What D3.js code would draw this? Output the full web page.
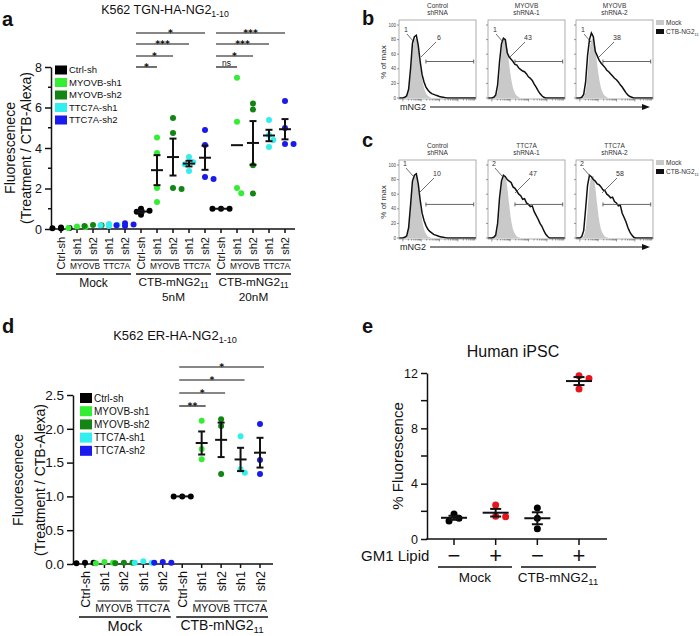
<!DOCTYPE html>
<html><head><meta charset="utf-8">
<script src="https://cdn.jsdelivr.net/npm/d3@7"></script>
<style>body{margin:0;background:#fff} text{font-family:Arial,"Liberation Sans",sans-serif;fill:#111}</style>
</head><body><svg id="c" width="700" height="636"></svg>
<script>
// ---------------- DATA ----------------
const shCats = ["Ctrl-sh","MYOVB-sh1","MYOVB-sh2","TTC7A-sh1","TTC7A-sh2"];
const shColors = ["#000000","#33ee33","#138513","#33eeee","#1a1aee"];
const shTickLabels = ["Ctrl-sh","sh1","sh2","sh1","sh2"];
const geneLabels = ["MYOVB","TTC7A"];

// panel a
const aGroups = ["Mock","5nM","20nM"];
const aMock = [[0.05,0.02,0.08,0.04],[0.1,0.05,0.12],[0.15,0.18,0.2],[0.15,0.2,0.25,0.18],[0.15,0.22,0.28,0.18]];
const a5nM  = [[0.7,0.85,0.9,1.0],[4.52,3.75,2.02,1.33],[5.48,4.74,1.97,2.02],[3.55,3.3,3.2,2.87],[4.89,4.15,2.47,2.57]];
const a20nM = [[1,1,1],[7.47,5.3,1.77,2.02],[6.2,5.9,3.15,1.75],[5.38,4.64,4.4,4.05],[6.32,4.99,4.2,4.2]];
const aYTicks = [0,2,4,6,8];
const aYMinor = [1,3,5,7];
const aSig5 = ["*","*","***","*"];
const aSig20 = ["ns","*","***","***"];
const aNoErr = ["20nM|MYOVB-sh1"];

// panel d
const dGroups = ["Mock","CTB"];
const dMock = [[0.02,0.01,0.02],[0.02,0.01,0.03],[0.02,0.01,0.02],[0.04,0.02,0.02],[0.02,0.02,0.03]];
const dCTB  = [[1,1,1],[2.12,1.7,1.55],[2.14,2.04,1.33],[1.89,1.4,1.35],[2.07,1.54,1.33]];
const dYTicks = [0,0.5,1,1.5,2,2.5];
const dSig = ["**","*","*","*"];

// panel e
const eCats = ["Mock-","Mock+","CTB-","CTB+"];
const eSigns = ["\u2212","+","\u2212","+"];
const eColors = ["#000000","#e8141c","#000000","#e8141c"];
const eVals = [[1.8,1.3,1.5],[2.45,1.6,1.65],[2.25,1.5,0.75],[11.8,11.6,10.85]];
const eYTicks = [0,4,8,12];
const eYMinor = [2,6,10];

// panels b, c (flow histograms, % of max vs mNG2 position 0..1)
const flowBins = [0.05,0.075,0.1,0.125,0.15,0.175,0.2,0.225,0.25,0.275,0.3,0.325,0.35,0.375,0.4,0.425,0.45,0.475,0.5,0.525,0.55,0.575,0.6,0.625,0.65,0.675,0.7,0.725,0.75,0.775,0.8,0.825,0.85,0.875];
const bTitles = [["Control","shRNA"],["MYOVB","shRNA-1"],["MYOVB","shRNA-2"]];
const cTitles = [["Control","shRNA"],["TTC7A","shRNA-1"],["TTC7A","shRNA-2"]];
const bMock = [0,0,2,9,32,63,79,82,69,47,27,14,7,3,1,0,0,0,0,0,0,0,0,0,0,0,0,0,0,0,0,0,0,0];
const cMock = [0,0,3,12,38,70,84,85,70,46,25,12,6,2,1,0,0,0,0,0,0,0,0,0,0,0,0,0,0,0,0,0,0,0];
const bCTB1 = [0,1,3,12,40,75,84,86,72,50,32,22,15,11,8,6,5,4,3,2,1.5,1,0.5,0,0,0,0,0,0,0,0,0,0,0];
const bCTB2 = [0,1,4,18,50,74,82,80,62,56,53,50,46,45,41,39,37,36,33,29,27,24,19,15,10,6,3,1,0,0,0,0,0,0];
const bCTB3 = [0,1,5,22,58,80,89,84,64,58,52,48,45,42,38,36,33,30,27,25,22,18,15,11,7,4,2,1,0,0,0,0,0,0];
const cCTB1 = [0,1,3,14,45,78,86,88,74,52,34,24,17,12,9,7,5,4,3,2,1.5,1,0.5,0,0,0,0,0,0,0,0,0,0,0];
const cCTB2 = [0,1,4,20,55,78,86,84,80,78,76,70,68,64,60,58,53,54,48,46,43,44,36,31,26,20,16,10,5,2,0,0,0,0];
const cCTB3 = [0,2,10,40,72,86,84,80,78,74,73,70,66,65,60,58,55,56,50,48,44,45,34,28,22,14,8,4,1,0,0,0,0,0];
const bMockGate = ["1","1","1"], bGate = ["6","43","38"];
const cMockGate = ["1","2","2"], cGate = ["10","47","58"];
const flowYTicks = [0,20,40,60,80,100];

// ---------------- HELPERS ----------------
const svg = d3.select("#c");
svg.append("rect").attr("width",700).attr("height",636).attr("fill","#fff");

function subText(g, x, y, main, sub, size, anchor) {
  const t = g.append("text").attr("x",x).attr("y",y).attr("font-size",size).attr("text-anchor",anchor||"middle");
  t.append("tspan").text(main);
  t.append("tspan").attr("font-size",size*0.7).attr("dy",size*0.2).text(sub);
  return t;
}
function panelLabel(x,y,s){ svg.append("text").attr("x",x).attr("y",y).attr("font-size",20).attr("font-weight","bold").text(s); }

function styleAxis(sel, fs){
  sel.select(".domain").attr("stroke","#111").attr("stroke-width",1.5);
  sel.selectAll(".tick line").attr("stroke","#111").attr("stroke-width",1.5);
  sel.selectAll(".tick text").attr("font-size",fs).attr("font-family","Arial, Liberation Sans, sans-serif").attr("fill","#111");
}

function swarm(ys, r){
  const order = ys.map((v,i)=>i).sort((a,b)=>ys[a]-ys[b]);
  const placed = []; const off = new Array(ys.length).fill(0);
  const d = r*1.9, steps=[0,1,-1,2,-2,3,-3];
  order.forEach(i=>{
    for (const s of steps){
      const ox = s*d*0.75;
      if (placed.every(p => Math.hypot(p.x-ox, p.y-ys[i]) >= r*1.7)){ off[i]=ox; placed.push({x:ox,y:ys[i]}); break; }
    }
  });
  return off;
}

function dotGroup(g, cx, vals, color, y, opt){
  const ys = vals.map(v=>y(v));
  const off = swarm(ys, opt.r);
  g.selectAll(null).data(vals).enter().append("circle")
    .attr("cx",(d,i)=>cx+off[i]).attr("cy",d=>y(d)).attr("r",opt.r).attr("fill",color);
  if (!opt.lines) return;
  const m = d3.mean(vals), s = vals.length>1 ? d3.deviation(vals)/Math.sqrt(vals.length) : 0;
  const L = g.append("g").attr("stroke","#111").attr("stroke-width",2);
  L.append("line").attr("x1",cx-opt.mw).attr("x2",cx+opt.mw).attr("y1",y(m)).attr("y2",y(m));
  if (opt.err && s>0){
    L.append("line").attr("x1",cx).attr("x2",cx).attr("y1",y(m-s)).attr("y2",y(m+s));
    L.append("line").attr("x1",cx-opt.cw).attr("x2",cx+opt.cw).attr("y1",y(m-s)).attr("y2",y(m-s));
    L.append("line").attr("x1",cx-opt.cw).attr("x2",cx+opt.cw).attr("y1",y(m+s)).attr("y2",y(m+s));
  }
}

function sigBracket(g, x1, x2, yy, label){
  g.append("line").attr("x1",x1).attr("x2",x2).attr("y1",yy).attr("y2",yy).attr("stroke","#111").attr("stroke-width",1.2);
  const isStar = label.indexOf("*")>=0;
  const t = g.append("text").attr("x",(x1+x2)/2).attr("text-anchor","middle").text(label);
  if (isStar) t.attr("y",yy+2.6).attr("font-size",9.4).attr("font-weight","bold").style("font-family","DejaVu Sans, sans-serif");
  else t.attr("y",yy-0.6).attr("font-size",8.5);
}

function legend(g, x, y0, dy, sw, sh, fs){
  shCats.forEach((c,i)=>{
    g.append("rect").attr("x",x).attr("y",y0+i*dy-sh/2).attr("width",sw).attr("height",sh).attr("fill",shColors[i]);
    g.append("text").attr("x",x+sw+2).attr("y",y0+i*dy+fs*0.36).attr("font-size",fs).text(c);
  });
}

function yLabel2(g, x1, x2, cy, l1, l2, fs){
  g.append("text").attr("transform",`translate(${x1},${cy}) rotate(-90)`).attr("text-anchor","middle").attr("font-size",fs).text(l1);
  g.append("text").attr("transform",`translate(${x2},${cy}) rotate(-90)`).attr("text-anchor","middle").attr("font-size",fs).text(l2);
}

// ---------------- PANEL A ----------------
(function(){
  const g = svg.append("g");
  panelLabel(2,26,"a");
  subText(g,165,14,"K562 TGN-HA-NG2","1-10",12.5);
  const keys=[]; aGroups.forEach(gr=>shCats.forEach(c=>keys.push(gr+"|"+c)));
  const x = d3.scalePoint().domain(keys).range([61,285]);
  const y = d3.scaleLinear().domain([0,8]).range([229,67]);
  const ax = g.append("g").attr("transform","translate(51,0)")
    .call(d3.axisLeft(y).tickValues(aYTicks).tickSize(6).tickSizeOuter(0).tickPadding(3));
  styleAxis(ax,12.5);
  aYMinor.forEach(v=>g.append("line").attr("x1",48).attr("x2",51).attr("y1",y(v)).attr("y2",y(v)).attr("stroke","#111").attr("stroke-width",1.5));
  g.append("line").attr("x1",50.25).attr("x2",295).attr("y1",229).attr("y2",229).attr("stroke","#111").attr("stroke-width",1.5);
  keys.forEach(k=>g.append("line").attr("x1",x(k)).attr("x2",x(k)).attr("y1",229).attr("y2",233).attr("stroke","#111").attr("stroke-width",1.5));
  yLabel2(g,15,31,148,"Fluorescenece","(Treatment / CTB-Alexa)",14);
  legend(g,55,70,12.5,12,9,9.5);
  const dataSets=[aMock,a5nM,a20nM];
  aGroups.forEach((gr,gi)=>{
    shCats.forEach((c,ci)=>{
      const k=gr+"|"+c;
      dotGroup(g,x(k),dataSets[gi][ci],shColors[ci],y,{r:3,lines:gi>0,err:aNoErr.indexOf(k)<0,mw:6,cw:3.5});
      g.append("text").attr("transform",`translate(${x(k)+4},237) rotate(-90)`).attr("text-anchor","end").attr("font-size",11).text(shTickLabels[ci]);
    });
    geneLabels.forEach((gl,j)=>{
      const xa=x(gr+"|"+shCats[1+2*j])-6, xb=x(gr+"|"+shCats[2+2*j])+6;
      g.append("line").attr("x1",xa).attr("x2",xb).attr("y1",260).attr("y2",260).attr("stroke","#111").attr("stroke-width",1.2);
      g.append("text").attr("x",(xa+xb)/2).attr("y",269).attr("text-anchor","middle").attr("font-size",8.3).text(gl);
    });
    const x0=x(gr+"|"+shCats[0])-5, x1=x(gr+"|"+shCats[4])+6;
    g.append("line").attr("x1",x0).attr("x2",x1).attr("y1",274).attr("y2",274).attr("stroke","#111").attr("stroke-width",1.5);
    if (gi===0) g.append("text").attr("x",(x0+x1)/2).attr("y",286.5).attr("text-anchor","middle").attr("font-size",12).text("Mock");
    else {
      subText(g,(x0+x1)/2,286,"CTB-mNG2","11",11.8);
      g.append("text").attr("x",(x0+x1)/2).attr("y",300.5).attr("text-anchor","middle").attr("font-size",11.8).text(gr);
    }
  });
  const levels=[67,56,44,33];
  [["5nM",aSig5],["20nM",aSig20]].forEach(([gr,labs])=>{
    labs.forEach((lab,i)=>{
      sigBracket(g,x(gr+"|"+shCats[0])-5,x(gr+"|"+shCats[i+1]),levels[i],lab);
    });
  });
})();

// ---------------- PANEL D ----------------
(function(){
  const g = svg.append("g");
  panelLabel(2,333,"d");
  subText(g,175,340,"K562 ER-HA-NG2","1-10",13);
  const keys=[]; dGroups.forEach(gr=>shCats.forEach(c=>keys.push(gr+"|"+c)));
  const x = d3.scalePoint().domain(keys).range([85,260]);
  const y = d3.scaleLinear().domain([0,2.5]).range([564,395]);
  const ax = g.append("g").attr("transform","translate(73,0)")
    .call(d3.axisLeft(y).tickValues(dYTicks).tickSize(6).tickSizeOuter(0).tickPadding(3).tickFormat(d3.format(".1f")));
  styleAxis(ax,13.5);
  g.append("line").attr("x1",72.25).attr("x2",273).attr("y1",564).attr("y2",564).attr("stroke","#111").attr("stroke-width",1.5);
  keys.forEach(k=>g.append("line").attr("x1",x(k)).attr("x2",x(k)).attr("y1",564).attr("y2",568).attr("stroke","#111").attr("stroke-width",1.5));
  yLabel2(g,23,45,480,"Fluorescenece","(Treatment / CTB-Alexa)",14);
  legend(g,80,398,13.2,12,10,10);
  const dataSets=[dMock,dCTB];
  dGroups.forEach((gr,gi)=>{
    shCats.forEach((c,ci)=>{
      const k=gr+"|"+c;
      dotGroup(g,x(k),dataSets[gi][ci],shColors[ci],y,{r:3,lines:gi>0,err:true,mw:6,cw:3.5});
      g.append("text").attr("transform",`translate(${x(k)+4.5},571) rotate(-90)`).attr("text-anchor","end").attr("font-size",12.5).text(shTickLabels[ci]);
    });
    geneLabels.forEach((gl,j)=>{
      const xa=x(gr+"|"+shCats[1+2*j])-7, xb=x(gr+"|"+shCats[2+2*j])+7;
      g.append("line").attr("x1",xa).attr("x2",xb).attr("y1",601).attr("y2",601).attr("stroke","#111").attr("stroke-width",1.2);
      g.append("text").attr("x",(xa+xb)/2).attr("y",612).attr("text-anchor","middle").attr("font-size",10.5).text(gl);
    });
    const x0=x(gr+"|"+shCats[0])-6, x1=x(gr+"|"+shCats[4])+8;
    g.append("line").attr("x1",x0).attr("x2",x1).attr("y1",617).attr("y2",617).attr("stroke","#111").attr("stroke-width",1.5);
    if (gi===0) g.append("text").attr("x",(x0+x1)/2).attr("y",631).attr("text-anchor","middle").attr("font-size",14.5).text("Mock");
    else subText(g,(x0+x1)/2,630,"CTB-mNG2","11",14);
  });
  const levels=[406,393,380,367];
  dSig.forEach((lab,i)=>sigBracket(g,x("CTB|"+shCats[0])-3,x("CTB|"+shCats[i+1])+4,levels[i],lab));
})();

// ---------------- PANEL E ----------------
(function(){
  const g = svg.append("g");
  panelLabel(362,333,"e");
  g.append("text").attr("x",513).attr("y",357).attr("text-anchor","middle").attr("font-size",16).text("Human iPSC");
  const x = d3.scalePoint().domain(eCats).range([454,579]);
  const y = d3.scaleLinear().domain([0,12]).range([539,373]);
  const ax = g.append("g").attr("transform","translate(427,0)")
    .call(d3.axisLeft(y).tickValues(eYTicks).tickSize(6).tickSizeOuter(0).tickPadding(3));
  styleAxis(ax,12.5);
  eYMinor.forEach(v=>g.append("line").attr("x1",421).attr("x2",427).attr("y1",y(v)).attr("y2",y(v)).attr("stroke","#111").attr("stroke-width",1.5));
  g.append("line").attr("x1",426.25).attr("x2",607).attr("y1",539).attr("y2",539).attr("stroke","#111").attr("stroke-width",1.5);
  eCats.forEach((k,i)=>{
    g.append("line").attr("x1",x(k)).attr("x2",x(k)).attr("y1",539).attr("y2",545).attr("stroke","#111").attr("stroke-width",1.5);
    dotGroup(g,x(k),eVals[i],eColors[i],y,{r:3.5,lines:true,err:true,mw:13,cw:5.5});
    g.append("text").attr("x",x(k)).attr("y",563).attr("text-anchor","middle").attr("font-size",22).text(eSigns[i]);
  });
  g.append("text").attr("transform","translate(403,456) rotate(-90)").attr("text-anchor","middle").attr("font-size",15).text("% Fluorescence");
  g.append("text").attr("x",361).attr("y",561).attr("font-size",15).text("GM1 Lipid");
  g.append("line").attr("x1",438).attr("x2",512).attr("y1",567).attr("y2",567).attr("stroke","#111").attr("stroke-width",1.5);
  g.append("line").attr("x1",521).attr("x2",596).attr("y1",567).attr("y2",567).attr("stroke","#111").attr("stroke-width",1.5);
  g.append("text").attr("x",475).attr("y",582).attr("text-anchor","middle").attr("font-size",13.5).text("Mock");
  subText(g,558,582,"CTB-mNG2","11",13.5);
})();

// ---------------- PANELS B, C ----------------
const boxLefts=[399,488,576], boxW=77;
function flowRow(top, titles, mock, ctbs, mockLabs, gateLabs, gateLevel, labOff){
  boxLefts.forEach((bx,i)=>{
    const g = svg.append("g");
    const fx = d3.scaleLinear().domain([0,1]).range([bx,bx+boxW]);
    const fy = d3.scaleLinear().domain([0,100]).range([top+78,top+5]);
    g.append("text").attr("x",bx+boxW/2).attr("y",top-12).attr("text-anchor","middle").attr("font-size",6.5).style("fill","#333").text(titles[i][0]);
    g.append("text").attr("x",bx+boxW/2).attr("y",top-5).attr("text-anchor","middle").attr("font-size",6.5).style("fill","#333").text(titles[i][1]);
    const pts = (arr)=>[[0,0]].concat(flowBins.map((b,j)=>[b,arr[j]])).concat([[1,0]]);
    g.append("path").datum(pts(mock)).attr("fill","#c9c9c9")
      .attr("d",d3.area().x(d=>fx(d[0])).y0(fy(0)).y1(d=>fy(d[1])).curve(d3.curveMonotoneX));
    g.append("path").datum(pts(ctbs[i])).attr("fill","none").attr("stroke","#111").attr("stroke-width",1.5)
      .attr("d",d3.line().x(d=>fx(d[0])).y(d=>fy(d[1])).curve(d3.curveLinear));
    g.append("rect").attr("x",bx).attr("y",top).attr("width",boxW).attr("height",79).attr("fill","none").attr("stroke","#999").attr("stroke-width",0.8);
    flowYTicks.forEach(t=>{
      g.append("line").attr("x1",bx-2).attr("x2",bx).attr("y1",fy(t)).attr("y2",fy(t)).attr("stroke","#555").attr("stroke-width",0.6);
      if(i===0) g.append("text").attr("x",bx-3).attr("y",fy(t)+1.5).attr("text-anchor","end").attr("font-size",4.5).style("fill","#444").text(t);
    });
    for(let dcd=0; dcd<4; dcd++) for(let k=1;k<10;k++){
      const f=(dcd+Math.log10(k))/4.2+0.05; if(f>0.98) continue;
      g.append("line").attr("x1",fx(f)).attr("x2",fx(f)).attr("y1",top+79).attr("y2",top+79+(k===1?2.5:1.5)).attr("stroke","#555").attr("stroke-width",0.6);
    }
    const gx1=fx(0.35), gx2=fx(0.97), gy=fy(gateLevel);
    g.append("line").attr("x1",gx1).attr("x2",gx2).attr("y1",gy).attr("y2",gy).attr("stroke","#555").attr("stroke-width",0.9);
    [gx1,gx2].forEach(xx=>g.append("line").attr("x1",xx).attr("x2",xx).attr("y1",gy-2).attr("y2",gy+2).attr("stroke","#555").attr("stroke-width",0.9));
    g.append("text").attr("x",bx+labOff.m[0]).attr("y",top+labOff.m[1]).attr("font-size",7).style("fill","#333").text(mockLabs[i]);
    g.append("line").attr("x1",bx+labOff.m[0]+3).attr("y1",top+labOff.m[1]+2).attr("x2",bx+labOff.m[0]+10).attr("y2",top+labOff.m[1]+10).attr("stroke","#333").attr("stroke-width",0.7);
    g.append("text").attr("x",bx+labOff.g[i][0]).attr("y",top+labOff.g[i][1]).attr("text-anchor","middle").attr("font-size",7).style("fill","#333").text(gateLabs[i]);
    g.append("line").attr("x1",bx+labOff.g[i][0]-3).attr("y1",top+labOff.g[i][1]+2).attr("x2",bx+labOff.g[i][0]-18).attr("y2",top+labOff.g[i][1]+17).attr("stroke","#333").attr("stroke-width",0.7);
  });
  svg.append("text").attr("transform",`translate(386,${top+42}) rotate(-90)`).attr("text-anchor","middle").attr("font-size",8).style("fill","#333").text("% of max");
  svg.append("text").attr("x",400).attr("y",top+90).attr("font-size",9).style("fill","#222").text("mNG2");
  svg.append("line").attr("x1",430).attr("x2",642).attr("y1",top+87).attr("y2",top+87).attr("stroke","#111").attr("stroke-width",1.2);
  svg.append("path").attr("d",`M642,${top+84}L650,${top+87}L642,${top+90}Z`).attr("fill","#111");
  svg.append("rect").attr("x",656).attr("y",top).attr("width",8).attr("height",5).attr("fill","#c9c9c9");
  svg.append("text").attr("x",666).attr("y",top+5).attr("font-size",6.5).style("fill","#333").text("Mock");
  svg.append("rect").attr("x",656).attr("y",top+9).attr("width",8).attr("height",5).attr("fill","#111");
  const t=svg.append("text").attr("x",666).attr("y",top+14).attr("font-size",6.5).style("fill","#333");
  t.append("tspan").text("CTB-NG2"); t.append("tspan").attr("font-size",4).attr("dy",1.5).text("11");
}
panelLabel(362,25,"b");
flowRow(20,bTitles,bMock,[bCTB1,bCTB2,bCTB3],bMockGate,bGate,50,{m:[5,12],g:[[40,20],[40,20],[41,20]]});
panelLabel(362,147,"c");
flowRow(160,cTitles,cMock,[cCTB1,cCTB2,cCTB3],cMockGate,cGate,46,{m:[4,6],g:[[38,16],[45,16],[44,16]]});
</script></body></html>
